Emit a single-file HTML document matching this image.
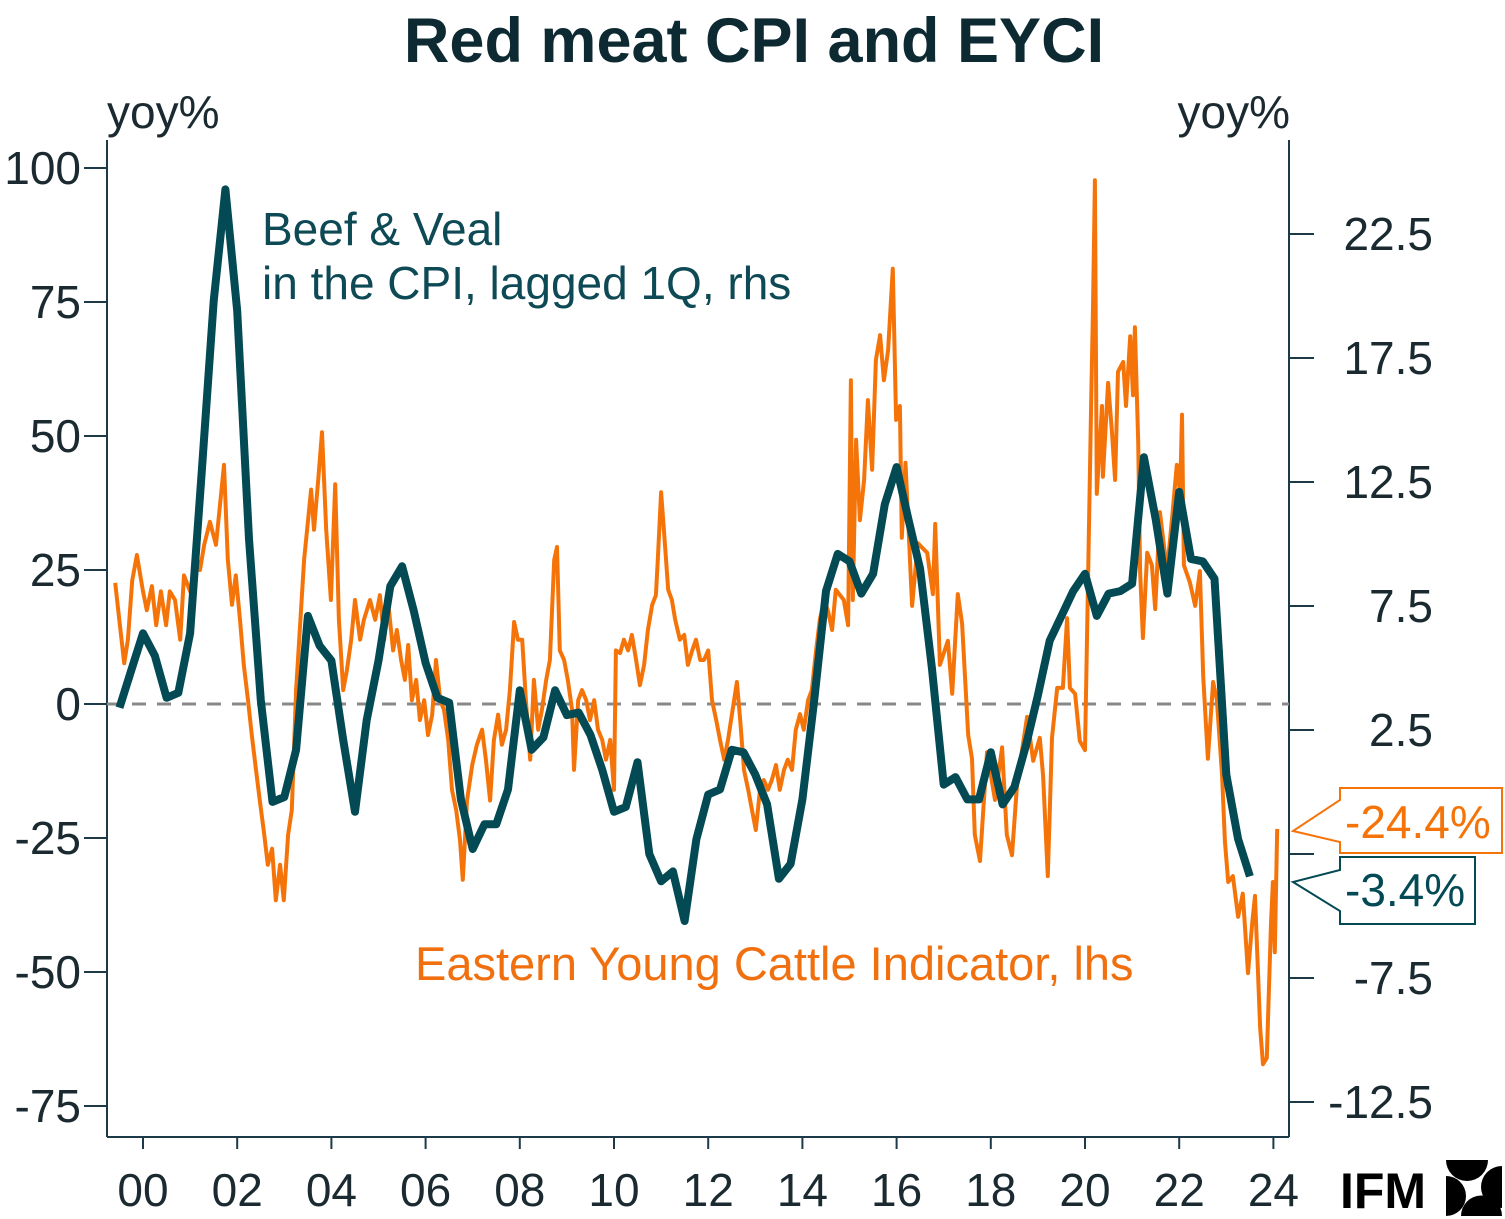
<!DOCTYPE html>
<html><head><meta charset="utf-8"><style>
html,body{margin:0;padding:0;background:#fff;}
svg{display:block;font-family:"Liberation Sans",sans-serif;}
</style></head><body>
<svg id="chart" width="1505" height="1219" viewBox="0 0 1505 1219">
<text x="754" y="62" text-anchor="middle" font-size="63" font-weight="bold" fill="#0d2a33">Red meat CPI and EYCI</text>
<text x="107" y="128" font-size="46" fill="#1a2a30">yoy%</text>
<text x="1290" y="128" text-anchor="end" font-size="46" fill="#1a2a30">yoy%</text>
<g id="axes"></g>
<line x1="107" y1="704" x2="1289" y2="704" stroke="#888" stroke-width="3" stroke-dasharray="14 11"/>
<g id="series"></g>
<text x="262" y="245" font-size="46" fill="#0e4a55">Beef &amp; Veal</text>
<text x="262" y="299" font-size="46" fill="#0e4a55">in the CPI, lagged 1Q, rhs</text>
<text x="415" y="980" font-size="47" fill="#f07010">Eastern Young Cattle Indicator, lhs</text>
<g>
<path d="M1340,788 H1502 V853 H1340 V842 L1293,831 L1340,800 Z" fill="#fff" stroke="#f5740a" stroke-width="2"/>
<text x="1345" y="838" font-size="46" fill="#f5740a">-24.4%</text>
</g>
<g>
<path d="M1340,857 H1475 V924 H1340 V911 L1293,882 L1340,870 Z" fill="#fff" stroke="#034a54" stroke-width="2"/>
<text x="1345" y="906" font-size="46" fill="#034a54">-3.4%</text>
</g>
<text x="1340" y="1208" font-size="50" font-weight="bold" fill="#000">IFM</text>
<g fill="#000">
<path d="M1446,1160 H1488 A21,21 0 0 1 1446,1160 Z"/>
<path d="M1502,1166 V1208 A21,21 0 0 1 1502,1166 Z"/>
<path d="M1502,1216 H1461 A20.5,20.5 0 0 1 1502,1216 Z"/>
<path d="M1446,1216 V1176 A20,20 0 0 1 1446,1216 Z"/>
</g>
</svg>
<script>
const leftTicks=[100,75,50,25,0,-25,-50,-75];
const rightTicks=[22.5,17.5,12.5,7.5,2.5,-2.5,-7.5,-12.5];
const rightTickLabels=["22.5","17.5","12.5","7.5","2.5","","-7.5","-12.5"];
const yearTicks=[2000,2002,2004,2006,2008,2010,2012,2014,2016,2018,2020,2022,2024];
const yearLabels=["00","02","04","06","08","10","12","14","16","18","20","22","24"];
const cpiStart=1999.5;
const cpiValues=[3.4,4.9,6.4,5.5,3.8,4.0,6.4,13,19.8,24.3,19.4,10.2,3.7,-0.4,-0.2,1.7,7.1,5.9,5.3,2.1,-0.8,2.9,5.3,8.3,9.1,7.3,5.2,3.8,3.6,-0.3,-2.3,-1.3,-1.3,0.1,4.1,1.7,2.2,4.1,3.1,3.2,2.3,0.9,-0.8,-0.6,1.2,-2.5,-3.6,-3.2,-5.2,-1.9,-0.1,0.1,1.7,1.6,0.7,-0.5,-3.5,-2.9,-0.3,3.7,8.1,9.6,9.3,8.0,8.8,11.6,13.1,11.0,9.0,5.0,0.3,0.6,-0.3,-0.3,1.6,-0.5,0.2,1.9,3.9,6.1,7.1,8.1,8.8,7.1,8.0,8.1,8.4,13.5,11.0,8.0,12.1,9.4,9.3,8.6,0.7,-1.9,-3.4];
const eyciDates=[1999.41,1999.51,1999.60,1999.68,1999.77,1999.87,2000.00,2000.08,2000.19,2000.28,2000.38,2000.49,2000.57,2000.68,2000.79,2000.87,2001.00,2001.13,2001.21,2001.30,2001.42,2001.55,2001.72,2001.80,2001.89,2001.97,2002.06,2002.14,2002.23,2002.31,2002.40,2002.48,2002.57,2002.65,2002.74,2002.82,2002.91,2002.99,2003.08,2003.16,2003.25,2003.33,2003.42,2003.50,2003.57,2003.63,2003.72,2003.80,2003.89,2003.99,2004.08,2004.16,2004.25,2004.33,2004.42,2004.50,2004.61,2004.69,2004.82,2004.93,2005.03,2005.12,2005.20,2005.31,2005.39,2005.48,2005.56,2005.63,2005.71,2005.80,2005.88,2005.97,2006.05,2006.14,2006.22,2006.31,2006.39,2006.48,2006.56,2006.65,2006.73,2006.79,2006.88,2006.99,2007.09,2007.20,2007.28,2007.37,2007.45,2007.54,2007.62,2007.71,2007.79,2007.88,2007.96,2008.05,2008.13,2008.22,2008.30,2008.39,2008.47,2008.56,2008.64,2008.73,2008.79,2008.85,2008.94,2009.02,2009.11,2009.15,2009.24,2009.32,2009.41,2009.49,2009.58,2009.66,2009.75,2009.83,2009.92,2010.00,2010.04,2010.13,2010.21,2010.30,2010.38,2010.47,2010.55,2010.64,2010.72,2010.81,2010.89,2010.93,2011.00,2011.06,2011.15,2011.23,2011.30,2011.40,2011.49,2011.57,2011.66,2011.74,2011.83,2011.91,2012.00,2012.08,2012.17,2012.25,2012.34,2012.42,2012.61,2012.68,2012.76,2012.85,2012.93,2013.01,2013.10,2013.18,2013.27,2013.35,2013.44,2013.52,2013.61,2013.69,2013.78,2013.86,2013.95,2014.03,2014.12,2014.20,2014.29,2014.37,2014.46,2014.54,2014.63,2014.71,2014.80,2014.88,2014.97,2015.03,2015.07,2015.14,2015.22,2015.31,2015.39,2015.48,2015.56,2015.65,2015.73,2015.82,2015.92,2015.99,2016.07,2016.11,2016.19,2016.33,2016.45,2016.65,2016.77,2016.82,2016.92,2017.09,2017.18,2017.30,2017.39,2017.52,2017.60,2017.66,2017.77,2017.92,2018.09,2018.24,2018.34,2018.45,2018.56,2018.77,2018.90,2019.04,2019.11,2019.21,2019.30,2019.41,2019.53,2019.62,2019.68,2019.79,2019.89,2020.00,2020.06,2020.13,2020.17,2020.21,2020.25,2020.36,2020.38,2020.49,2020.57,2020.64,2020.70,2020.81,2020.87,2020.96,2021.02,2021.06,2021.13,2021.17,2021.23,2021.32,2021.42,2021.49,2021.59,2021.74,2021.85,2021.95,2022.02,2022.06,2022.10,2022.23,2022.34,2022.44,2022.51,2022.61,2022.72,2022.80,2022.91,2022.97,2023.04,2023.14,2023.25,2023.35,2023.46,2023.55,2023.61,2023.72,2023.78,2023.86,2023.95,2023.99,2024.03,2024.08];
const eyciValues=[22.6,14.7,7.6,12,23,27.8,21,17.5,22,14.7,21,14.7,21,19.4,12,24,21,27.8,25,29.7,34,29.7,44.6,27,18.5,24,15.7,7.3,0.7,-5.8,-12.3,-18,-24,-30,-27,-36.6,-30,-36.6,-24.4,-19.8,2.6,13.8,26.9,34,40,32.5,41.8,50.7,32.5,19.4,41,15.7,2.6,6.3,12,19.4,12,15.7,19.4,15.7,20.3,12,19.4,10,13.8,8.2,4.5,11,0.7,4.5,-3,0.7,-5.8,-2,8.2,0.7,-1.1,-6.7,-16,-19.8,-25.4,-32.8,-18,-11.4,-7.6,-4.8,-10.4,-18,-6.7,-2,-7.6,-4.8,2.6,15.3,12,12,0.7,-10.4,4.5,-4.8,-1.1,4.5,8.2,26.9,29.3,10,8.2,4.5,-1.1,-12.3,0.7,2.6,0.7,-3,0.7,-4.8,-6.7,-10.4,-6.7,-16,10,9.5,12,10,12.9,8.2,3.5,7.3,13.8,18.5,20.3,26.9,39.5,32.5,21.3,19.4,15.7,12,12.9,7.3,10,12,8.2,8.2,10,0.7,-3,-6.7,-10.4,-6.7,4.1,-3,-12.3,-16,-19.8,-23.5,-16,-14.2,-16,-14.2,-11.4,-16,-12.3,-10.4,-12.3,-4.8,-1.9,-4.8,0.7,2.6,10,15.7,19.4,17.5,13.8,21.3,20.3,19.4,14.7,60.4,19.4,49.3,34.3,41.8,56.7,43.7,64.2,68.8,60.4,66,81.2,53,55.6,31,45,18.3,30,28.2,20.5,33.6,7.3,11.8,1.9,20.5,15,-5.8,-10.2,-24.4,-29.3,-9,-17.9,-8.1,-24.4,-28.2,-14.6,-2.4,-10.6,-6.3,-13.4,-32.1,-6.3,3,3,16,3,1.9,-6.9,-8.6,20.5,55.6,74,97.7,39.2,55.6,42.4,59.9,51.1,41.8,62,63.8,55.6,68.6,57.6,70.3,48.9,24.8,12.3,28.2,25.9,17.7,35.8,24.8,34.7,44.6,39.2,54,25.9,22.6,18.3,24.8,5.2,-10.2,4.1,0.7,-13.4,-25.6,-33.2,-32.1,-39.7,-35.4,-50.2,-40.9,-35.8,-60.6,-67.2,-66,-40.9,-33.2,-46.3,-23.3];

const NS="http://www.w3.org/2000/svg";
const L=107,R=1289,T=140,B=1137;
function xScale(yr){return 143+(yr-2000)*47.1;}
function yLeft(v){return 704-v*5.36;}
function yRight(v){return 792-v*24.8;}
function mk(tag,attrs,parent){const e=document.createElementNS(NS,tag);for(const k in attrs)e.setAttribute(k,attrs[k]);parent.appendChild(e);return e;}
const axes=document.getElementById('axes');
const ac="#1d3a48";
let e;
e=mk('line',{x1:L,y1:T,x2:L,y2:B,stroke:ac,'stroke-width':2},axes);


e=mk('line',{x1:R,y1:T,x2:R,y2:B,stroke:ac,'stroke-width':2},axes);


e=mk('line',{x1:L,y1:B,x2:R,y2:B,stroke:ac,'stroke-width':2},axes);


leftTicks.forEach(v=>{const y=yLeft(v);
 mk('line',{x1:84,y1:y,x2:L,y2:y,stroke:ac,'stroke-width':2},axes);
 const t=mk('text',{x:81,y:y+16,'text-anchor':'end','font-size':46,fill:'#1a2a30'},axes);t.textContent=String(v);
 
 
});
rightTicks.forEach((v,i)=>{const y=yRight(v);
 mk('line',{x1:R,y1:y,x2:1314,y2:y,stroke:ac,'stroke-width':2},axes);
 const t=mk('text',{x:1433,y:y+16,'text-anchor':'end','font-size':46,fill:'#1a2a30'},axes);t.textContent=rightTickLabels[i];
 
 
});
yearTicks.forEach((yr,i)=>{const x=xScale(yr);
 mk('line',{x1:x,y1:B,x2:x,y2:B+12,stroke:ac,'stroke-width':2},axes);
 const t=mk('text',{x:x,y:1206,'text-anchor':'middle','font-size':46,fill:'#1a2a30'},axes);t.textContent=yearLabels[i];
 
 
});
const series=document.getElementById('series');
let d=eyciDates.map((yr,i)=>(i?'L':'M')+xScale(yr).toFixed(1)+','+yLeft(eyciValues[i]).toFixed(1)).join('');
e=mk('path',{d:d,fill:'none',stroke:'#f5740a','stroke-width':4,'stroke-linejoin':'round'},series);


d=cpiValues.map((v,i)=>(i?'L':'M')+xScale(cpiStart+i*0.25).toFixed(1)+','+yRight(v).toFixed(1)).join('');
e=mk('path',{d:d,fill:'none',stroke:'#034a54','stroke-width':8,'stroke-linejoin':'round'},series);


</script>
</body></html>
